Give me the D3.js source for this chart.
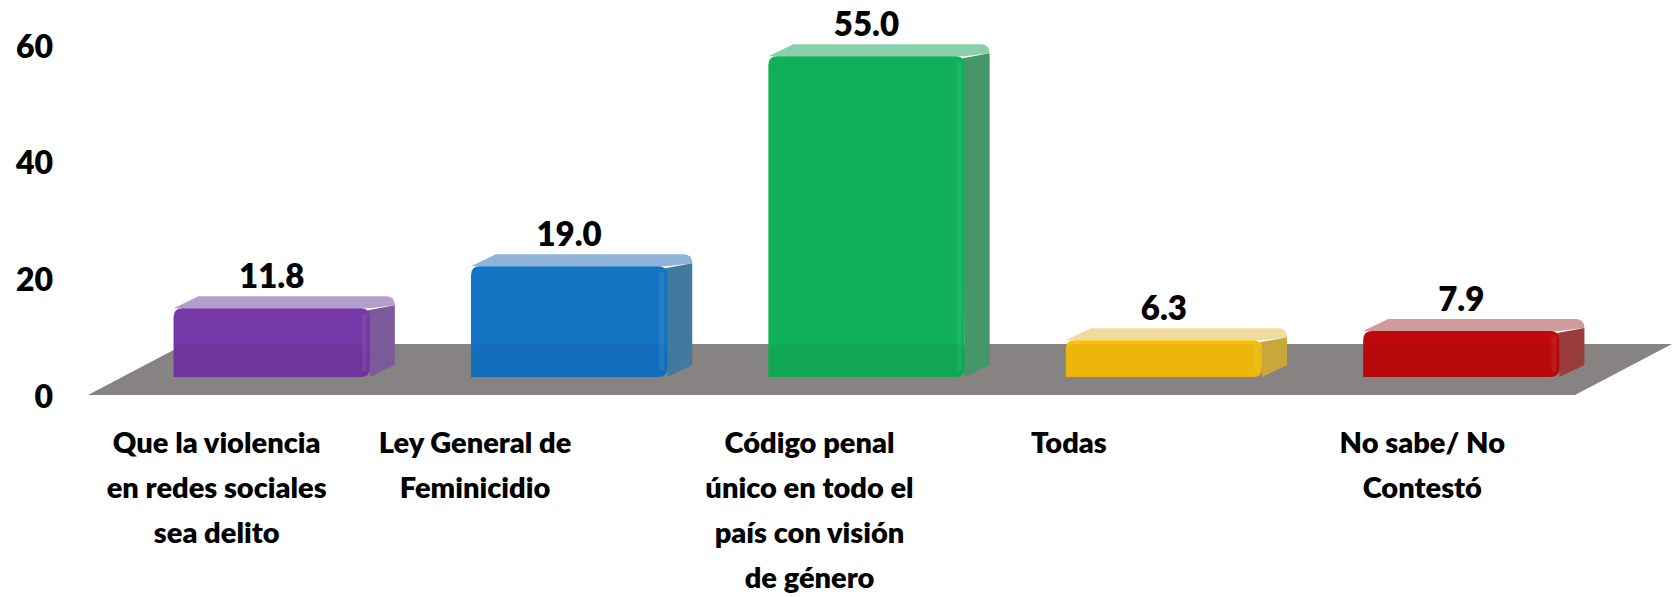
<!DOCTYPE html>
<html>
<head>
<meta charset="utf-8">
<script src="https://cdn.jsdelivr.net/npm/d3@7"></script>
<style>
  body { margin: 0; background: #fff; }
  text { font-family: Lato, "Noto Sans", sans-serif; font-weight: 800; fill: #000; }
</style>
</head>
<body>
<div class="chart"></div>
<script>
// chart data
var categories = [
    ["Que la violencia", "en redes sociales", "sea delito"],
    ["Ley General de", "Feminicidio"],
    ["Código penal", "único en todo el", "país con visión", "de género"],
    ["Todas"],
    ["No sabe/ No", "Contestó"]
];
var values = [11.8, 19.0, 55.0, 6.3, 7.9];
var yTicks = [0, 20, 40, 60];

// bar colours: front, top, side
var frontColors = ["#7638a6", "#1474c4", "#10b058", "#f9c00c", "#bf0a0d"];
var topColors = ["#b49fca", "#8fb4d8", "#8bcfaa", "#efdb9d", "#d19a9b"];
var sideColors = ["#7c5a9b", "#42799f", "#45976a", "#c9a83b", "#9a3b3d"];

var svgWidth = 1677;
var svgHeight = 597;

var svg = d3.select(".chart")
    .append("svg")
    .attr("width", svgWidth)
    .attr("height", svgHeight);

// floor front edge and the oblique depth of the floor
var floorLeft = 88, floorRight = 1575, floorY = 395;
var floorDepth = {dx: 97, dy: 51};
// where the bars stand on the floor, and how deep they are
var barShift = {dx: 35, dy: 18};
var barDepth = {dx: 25, dy: 12};

var ids = d3.range(values.length);

var xScale = d3.scaleBand()
    .domain(ids)
    .range([floorLeft, floorRight])
    .paddingInner(0.34)
    .paddingOuter(0.17);

var yScale = d3.scaleLinear()
    .domain([0, 60])
    .range([floorY, 45]);

// floor
svg.append("path")
    .attr("d", d3.line()([
        [floorLeft, floorY],
        [floorRight, floorY],
        [floorRight + floorDepth.dx, floorY - floorDepth.dy],
        [floorLeft + floorDepth.dx, floorY - floorDepth.dy]
    ]))
    .attr("fill", "#878382");

// y axis labels
var leftAxis = d3.axisLeft(yScale)
    .tickValues(yTicks)
    .tickSize(0)
    .tickPadding(0);

var axisGroup = svg.append("g")
    .attr("transform", "translate(53, 2)")
    .call(leftAxis);
axisGroup.select(".domain").remove();
axisGroup.selectAll("text")
    .style("font-family", "Lato, 'Noto Sans', sans-serif")
    .style("font-weight", 800)
    .style("font-size", "32px")
    .attr("fill", "#000");

// bars
var bars = svg.selectAll(".bar")
    .data(ids)
    .enter()
    .append("g")
    .attr("class", "bar");

function geom(i) {
    var x0 = xScale(i) + barShift.dx;
    var x1 = x0 + xScale.bandwidth();
    var b = yScale(0) - barShift.dy;
    var t = yScale(values[i]) - barShift.dy;
    return {x0: x0, x1: x1, b: b, t: t};
}

var r = 9;

// top face
bars.append("path")
    .attr("d", function(i) {
        var g = geom(i), dx = barDepth.dx, dy = barDepth.dy;
        return "M" + g.x0 + "," + g.t +
            " L" + (g.x0 + dx) + "," + (g.t - dy) +
            " L" + (g.x1 + dx - r) + "," + (g.t - dy) +
            " Q" + (g.x1 + dx) + "," + (g.t - dy) + " " + (g.x1 + dx) + "," + (g.t - dy + r) +
            " L" + g.x1 + "," + g.t + " Z";
    })
    .attr("fill", function(i) { return topColors[i]; });

// side face
bars.append("path")
    .attr("d", function(i) {
        var g = geom(i), dx = barDepth.dx, dy = barDepth.dy;
        return "M" + (g.x1 - 2) + "," + (g.t + 2) +
            " L" + (g.x1 + dx) + "," + (g.t - dy + r) +
            " L" + (g.x1 + dx) + "," + (g.b - dy) +
            " L" + g.x1 + "," + g.b + " Z";
    })
    .attr("fill", function(i) { return sideColors[i]; });

function frontPath(g) {
    var rr = Math.min(r, (g.b - g.t) / 3);
    return "M" + g.x0 + "," + g.b +
        " L" + g.x0 + "," + (g.t + rr) +
        " Q" + g.x0 + "," + g.t + " " + (g.x0 + rr) + "," + g.t +
        " L" + (g.x1 - rr) + "," + g.t +
        " Q" + g.x1 + "," + g.t + " " + g.x1 + "," + (g.t + rr) +
        " L" + g.x1 + "," + (g.b - rr) +
        " Q" + g.x1 + "," + g.b + " " + (g.x1 - rr) + "," + g.b + " Z";
}

// front face with rounded corners
bars.append("path")
    .attr("d", function(i) { return frontPath(geom(i)); })
    .attr("fill", function(i) { return frontColors[i]; });

// the floor shows slightly through the lower part of each bar
bars.append("path")
    .attr("d", function(i) {
        var g = geom(i);
        var top = Math.max(g.t, floorY - floorDepth.dy);
        return frontPath({x0: g.x0, x1: g.x1, b: g.b, t: top});
    })
    .attr("fill", "#000")
    .attr("opacity", 0.05);

// thin bevel highlight on the right edge of the front face
bars.append("rect")
    .attr("x", function(i) { return geom(i).x1 - 8; })
    .attr("y", function(i) { return geom(i).t + 6; })
    .attr("width", 5)
    .attr("height", function(i) { return Math.max(0, geom(i).b - geom(i).t - 12); })
    .attr("fill", "#fff")
    .attr("opacity", 0.07);

// value labels
bars.append("text")
    .attr("x", function(i) { return xScale(i) + barShift.dx + xScale.bandwidth() / 2; })
    .attr("y", function(i) { return geom(i).t - 20; })
    .attr("text-anchor", "middle")
    .style("font-size", "33px")
    .text(function(i) { return values[i].toFixed(1); });

// category labels, nudged a little to follow the original layout
var labelNudge = [-20, -59, -22, -60, -4];
var catLabels = svg.selectAll(".cat")
    .data(ids)
    .enter()
    .append("text")
    .attr("class", "cat")
    .attr("text-anchor", "middle")
    .style("font-size", "29px");

catLabels.selectAll("tspan")
    .data(function(i) {
        return categories[i].map(function(line, k) {
            return {line: line, k: k, i: i};
        });
    })
    .enter()
    .append("tspan")
    .attr("x", function(d) { return xScale(d.i) + xScale.bandwidth() / 2 + labelNudge[d.i]; })
    .attr("y", function(d) { return 453 + d.k * 45; })
    .text(function(d) { return d.line; });
</script>
</body>
</html>
